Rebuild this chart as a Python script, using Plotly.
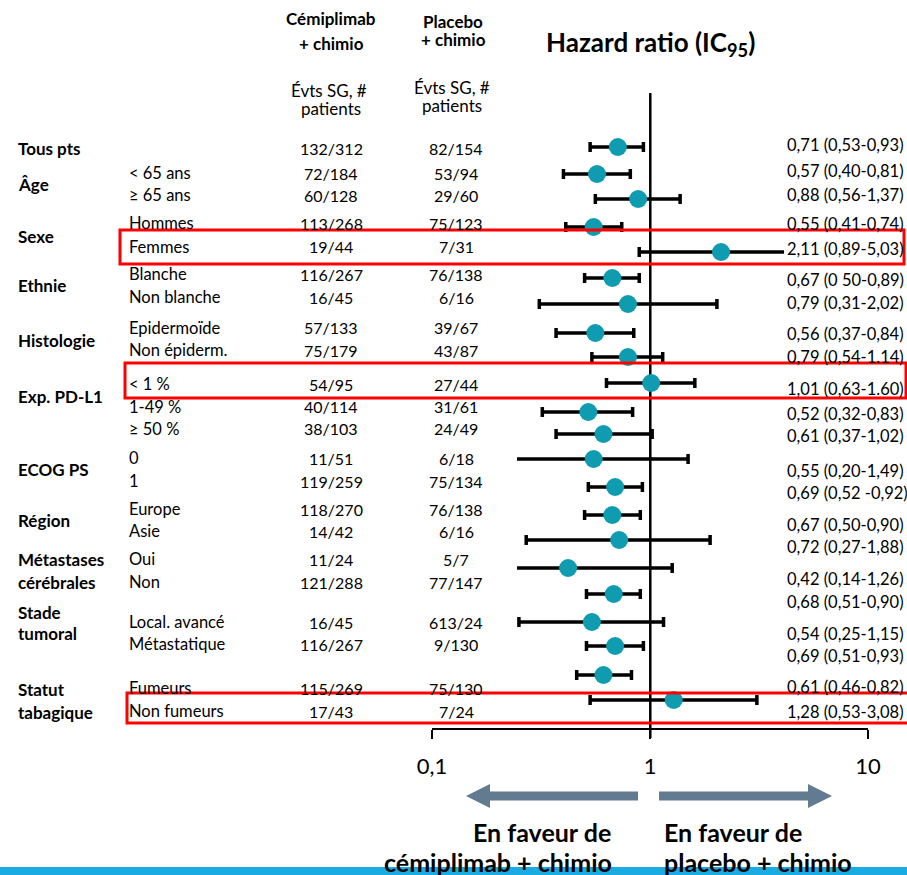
import math
import plotly.graph_objects as go

# ---- data -------------------------------------------------------------
groups = ["Tous pts", "Âge", "Sexe", "Ethnie", "Histologie", "Exp. PD-L1",
          "ECOG PS", "Région", "Métastases|cérébrales", "Stade|tumoral",
          "Statut|tabagique"]

subgroups = ["", "< 65 ans", "≥ 65 ans", "Hommes", "Femmes", "Blanche",
             "Non blanche", "Epidermoïde", "Non épiderm.", "< 1 %", "1-49 %",
             "≥ 50 %", "0", "1", "Europe", "Asie", "Oui", "Non",
             "Local. avancé", "Métastatique", "Fumeurs", "Non fumeurs"]

cemiplimab_events = ["132/312", "72/184", "60/128", "113/268", "19/44",
                     "116/267", "16/45", "57/133", "75/179", "54/95",
                     "40/114", "38/103", "11/51", "119/259", "118/270",
                     "14/42", "11/24", "121/288", "16/45", "116/267",
                     "115/269", "17/43"]

placebo_events = ["82/154", "53/94", "29/60", "75/123", "7/31", "76/138",
                  "6/16", "39/67", "43/87", "27/44", "31/61", "24/49",
                  "6/18", "75/134", "76/138", "6/16", "5/7", "77/147",
                  "613/24", "9/130", "75/130", "7/24"]

hazard_ratio = [0.71, 0.57, 0.88, 0.55, 2.11, 0.67, 0.79, 0.56, 0.79, 1.01,
                0.52, 0.61, 0.55, 0.69, 0.67, 0.72, 0.42, 0.68, 0.54, 0.69,
                0.61, 1.28]
ci_low = [0.53, 0.40, 0.56, 0.41, 0.89, 0.50, 0.31, 0.37, 0.54, 0.63,
          0.32, 0.37, 0.20, 0.52, 0.50, 0.27, 0.14, 0.51, 0.25, 0.51,
          0.46, 0.53]
ci_high = [0.93, 0.81, 1.37, 0.74, 5.03, 0.89, 2.02, 0.84, 1.14, 1.60,
           0.83, 1.02, 1.49, 0.92, 0.90, 1.88, 1.26, 0.90, 1.15, 0.93,
           0.82, 3.08]

hr_labels = ["0,71 (0,53-0,93)", "0,57 (0,40-0,81)", "0,88 (0,56-1,37)",
             "0,55 (0,41-0,74)", "2,11 (0,89-5,03)", "0,67 (0 50-0,89)",
             "0,79 (0,31-2,02)", "0,56 (0,37-0,84)", "0,79 (0,54-1.14)",
             "1,01 (0,63-1.60)", "0,52 (0,32-0,83)", "0,61 (0,37-1,02)",
             "0,55 (0,20-1,49)", "0,69 (0,52 -0,92)", "0,67 (0,50-0,90)",
             "0,72 (0,27-1,88)", "0,42 (0,14-1,26)", "0,68 (0,51-0,90)",
             "0,54 (0,25-1,15)", "0,69 (0,51-0,93)", "0,61 (0,46-0,82)",
             "1,28 (0,53-3,08)"]

scale_ticks = [0.1, 1, 10]
scale_ticktext = ["0,1", "1", "10"]

# ---- layout (page units: pixels from the top-left corner) -------------
W, H = 907, 875
FONT = "Lato"
BLACK = "#000000"
TEAL = "#0f9cb1"
ARROW = "#637b91"
RED = "#ff0000"
BAND = "#1aabe3"

# vertical placement of each row in the table columns, the forest and
# the right-hand estimate column
row_text_y = [148, 173, 195, 223, 247, 274, 297, 328, 350, 384, 407, 429,
              458, 481, 509, 531, 559, 582, 622, 644, 688, 711]
row_mark_y = [147, 174, 199, 227, 252, 278, 304, 333, 357, 383, 412, 434,
              459, 487, 515, 540, 568, 594, 622, 646, 675, 700]
row_est_y = [145, 171, 195, 224, 249, 280, 303, 334, 357, 389, 414, 436,
             471, 493, 525, 547, 579, 602, 634, 656, 687, 712]
group_y = [148, 185, 236, 285, 341, 396, 469, 520, (559, 582), (612, 633),
           (689, 712)]


def px(x):
    return x / W


def py(y):
    return 1 - y / H


annotations = []


def label(text, x, y, size=16, bold=False, anchor="left", color=BLACK):
    if bold:
        text = f"<b>{text}</b>"
    annotations.append(dict(
        text=text, x=px(x), y=py(y), xref="paper", yref="paper",
        xanchor=anchor, yanchor="middle", showarrow=False, borderpad=0,
        font=dict(family=FONT, size=size, color=color)))


# column headers
label("Cémiplimab", 331, 18, 17, True, "center")
label("+ chimio", 331, 43, 17, True, "center")
label("Placebo", 453, 21, 17, True, "center")
label("+ chimio", 453, 40, 17, True, "center")
label("Évts SG, #", 329, 90, 17, False, "center")
label("patients", 331, 108, 17, False, "center")
label("Évts SG, #", 452, 88, 17, False, "center")
label("patients", 452, 105, 17, False, "center")
label("Hazard ratio (IC<sub>95</sub>)", 650, 44, 26, True, "center")

# group names
for name, gy in zip(groups, group_y):
    parts = name.split("|")
    ys = gy if isinstance(gy, tuple) else (gy,)
    for part, yy in zip(parts, ys):
        label(part, 17, yy, 17, True)

# subgroup rows
for i in range(len(subgroups)):
    if subgroups[i]:
        label(subgroups[i], 128, row_text_y[i], 16.5)
    label(cemiplimab_events[i], 331, row_text_y[i], 16, anchor="center")
    label(placebo_events[i], 456, row_text_y[i], 16, anchor="center")
    label(hr_labels[i], 786, row_est_y[i], 16.5)

# direction captions
label("En faveur de", 612, 832, 25, True, "right")
label("cémiplimab + chimio", 613, 862, 25, True, "right")
label("En faveur de", 663, 832, 25, True, "left")
label("placebo + chimio", 663, 862, 25, True, "left")

# ---- figure -----------------------------------------------------------
fig = go.Figure()

# reference line at HR = 1
fig.add_trace(go.Scatter(
    x=[1, 1], y=[93, 738], mode="lines",
    line=dict(color=BLACK, width=2.5), hoverinfo="skip",
    xaxis="x", yaxis="y"))

# point estimates with 95 % intervals
fig.add_trace(go.Scatter(
    x=hazard_ratio, y=row_mark_y, mode="markers",
    marker=dict(size=18, color=TEAL, line=dict(width=0)),
    error_x=dict(type="data", symmetric=False,
                 array=[h - m for h, m in zip(ci_high, hazard_ratio)],
                 arrayminus=[m - l for m, l in zip(hazard_ratio, ci_low)],
                 color=BLACK, thickness=3.5, width=5),
    xaxis="x", yaxis="y", hoverinfo="skip"))

# carrier trace for the printed log scale
fig.add_trace(go.Scatter(x=[1], y=[0], mode="markers",
                         marker=dict(opacity=0), xaxis="x2", yaxis="y2",
                         hoverinfo="skip"))

shapes = []

# highlighted subgroups
for x0, y0, x1, y1 in [(120, 230, 904, 264), (125, 363, 906, 398),
                       (127, 693, 912, 723)]:
    shapes.append(dict(type="rect", xref="paper", yref="paper",
                       x0=px(x0), x1=px(x1), y0=py(y0), y1=py(y1),
                       line=dict(color=RED, width=3)))


def arrow_path(x_from, x_to, yc, head=24, shaft=9, head_h=24):
    d = 1 if x_to > x_from else -1
    xb = x_to - d * head
    pts = [(x_from, yc - shaft / 2), (xb, yc - shaft / 2),
           (xb, yc - head_h / 2), (x_to, yc), (xb, yc + head_h / 2),
           (xb, yc + shaft / 2), (x_from, yc + shaft / 2)]
    return "M " + " L ".join(f"{px(a):.5f},{py(b):.5f}" for a, b in pts) + " Z"


for xf, xt in [(638, 466), (659, 832)]:
    shapes.append(dict(type="path", xref="paper", yref="paper",
                       path=arrow_path(xf, xt, 796),
                       fillcolor=ARROW, line=dict(width=0)))

# bottom colour band
shapes.append(dict(type="rect", xref="paper", yref="paper", layer="below",
                   x0=0, x1=1, y0=0, y1=py(867), fillcolor=BAND,
                   line=dict(width=0)))

fig.update_layout(
    width=W, height=H,
    margin=dict(l=0, r=0, t=0, b=0, pad=0, autoexpand=False),
    paper_bgcolor="white", plot_bgcolor="rgba(0,0,0,0)",
    showlegend=False, annotations=annotations, shapes=shapes,
    xaxis=dict(type="log", domain=[px(517), px(784)],
               range=[math.log10(0.245), math.log10(4.1)],
               visible=False, fixedrange=True),
    yaxis=dict(range=[H, 0], domain=[0, 1], visible=False, fixedrange=True),
    xaxis2=dict(type="log", domain=[px(432), px(868)], range=[-1, 1],
                anchor="y2", side="bottom", showline=True, linecolor=BLACK,
                linewidth=1.5, showgrid=False, zeroline=False,
                ticks="outside", ticklen=9, tickwidth=2, tickcolor=BLACK,
                tickvals=scale_ticks, ticktext=scale_ticktext,
                ticklabelstandoff=9,
                tickfont=dict(family=FONT, size=22, color=BLACK),
                fixedrange=True),
    yaxis2=dict(domain=[py(728), py(700)], visible=False, range=[0, 1],
                fixedrange=True),
)

fig.write_html("out.html", config={"displayModeBar": False})
